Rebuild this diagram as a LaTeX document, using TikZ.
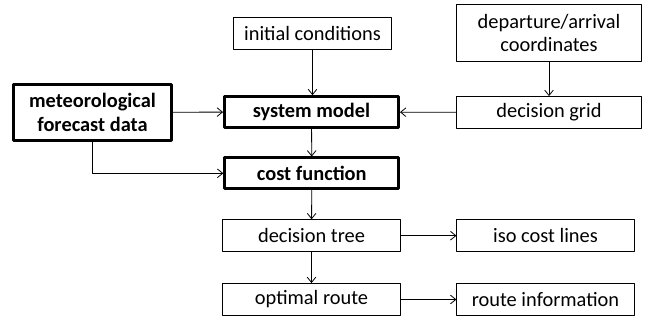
\documentclass[tikz,border=0pt]{standalone}
\usepackage{fontspec}
\setmainfont{Carlito}
\usetikzlibrary{arrows.meta}
\begin{document}
\begin{tikzpicture}[x=0.75pt,y=-0.75pt,font=\fontsize{15.3}{17.5}\selectfont,line join=round,
	>={Straight Barb[length=4pt,width=6.5pt]},
	box/.style={draw,line width=0.6pt,inner sep=0pt,align=center,minimum width=133pt,minimum height=24pt},
	keybox/.style={box,line width=2.2pt,font=\fontsize{15.3}{17.5}\selectfont\bfseries,minimum width=130.5pt,minimum height=23pt},
	link/.style={->,line width=0.6pt}]
			\useasboundingbox (0,0) rectangle (647,320);
			% inputs
			\node[box,minimum width=119pt] (init) at (312.5,33) {initial conditions};
			\node[box,minimum width=139pt,minimum height=42.5pt] (depart) at (549,33) {departure/arrival\\coordinates};
			\node[keybox,minimum width=118pt,minimum height=42pt] (meteo) at (92.5,112.3) {meteorological\\forecast data};
			\node[box,minimum width=139pt] (grid) at (549,112.5) {decision grid};
			% core
			\node[keybox] (model) at (311.5,112) {system model};
			\node[keybox] (cost) at (311.8,173.3) {cost function};
			% outputs
			\node[box] (tree) at (311.5,235.7) {decision tree};
			\node[box] (iso) at (545.5,235.7) {iso cost lines};
			\node[box] (route) at (311.5,299.5) {optimal route};
			\node[box] (info) at (545.5,299.5) {route information};
			\draw[link] (init.south) -- (init.south |- model.north);
			\draw[link] (depart) -- (grid);
			\draw[link] (meteo) -- (model);
			\draw[link] (grid) -- (model);
			\draw[link] (model) -- (cost);
			\draw[link] (meteo.south) |- (cost.west);
			\draw[link] (cost) -- (tree);
			\draw[link] (tree) -- (iso);
			\draw[link] (tree) -- (route);
			\draw[link] (route) -- (info);
\end{tikzpicture}
\end{document}
